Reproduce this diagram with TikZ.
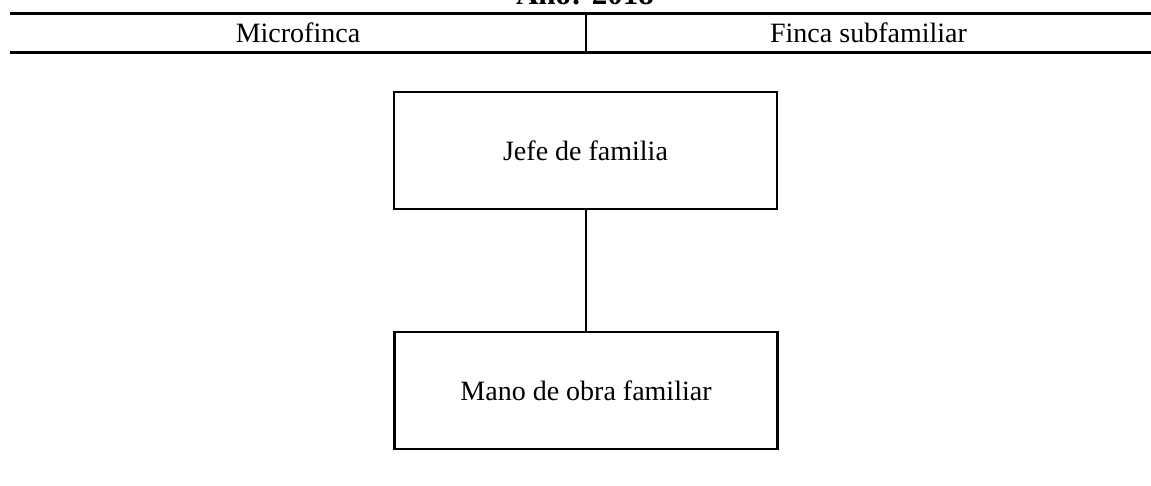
\documentclass[tikz,border=0pt]{standalone}
\usepackage{fontspec}
\setmainfont{Liberation Serif}
\begin{document}
\begin{tikzpicture}[x=1pt,y=-1pt,
  rule/.style={line width=3pt},
  divider/.style={line width=2pt},
  cell/.style={font=\fontsize{28}{32}\selectfont, anchor=base},
  titletext/.style={font=\fontsize{31}{36}\selectfont\bfseries, anchor=base},
  box/.style={draw, line width=2.8pt, minimum width=383pt, minimum height=117pt, inner sep=0pt, font=\fontsize{28}{32}\selectfont},
  link/.style={line width=2pt}]
\useasboundingbox (0,0) rectangle (1151,485);
\clip (0,0) rectangle (1151,485);
\fill[white] (0,0) rectangle (1151,485);
% title (cut off at top, as in the reference)
\node[titletext] (title) at (585,4) {Año: 2018};
% table rules
\coordinate (tl) at (10,13);
\coordinate (tr) at (1151,13);
\coordinate (bl) at (10,52);
\coordinate (br) at (1151,52);
\coordinate (dt) at (586,13);
\coordinate (db) at (586,52);
\draw[rule] (tl) -- (tr);
\draw[rule] (bl) -- (br);
\draw[divider] (dt) -- (db);
\node[cell] (micro) at (298,42) {Microfinca};
\node[cell] (sub) at (868.5,42) {Finca subfamiliar};
% boxes
\node[box] (jefe) at (585.5,150.5) {Jefe de familia};
\node[box] (mano) at (586,390.5) {Mano de obra familiar};
\draw[link] (jefe.south) -- (jefe.south |- mano.north);
\end{tikzpicture}
\end{document}
